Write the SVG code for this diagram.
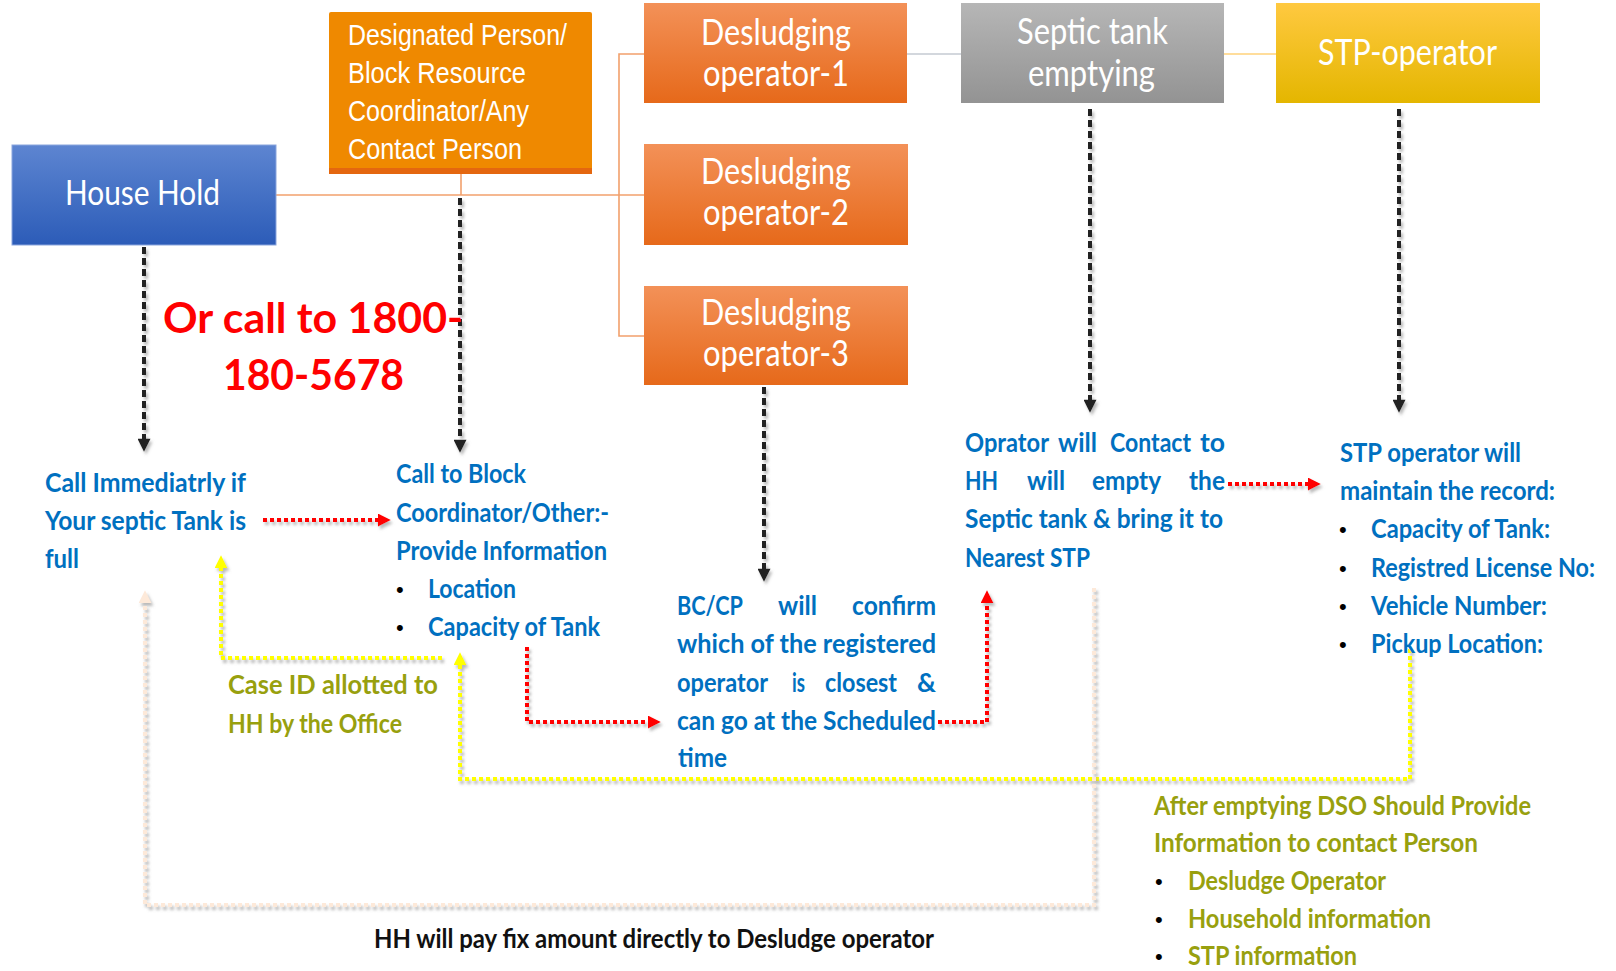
<svg xmlns="http://www.w3.org/2000/svg" width="1616" height="971" viewBox="0 0 1616 971">
<defs>
<style>
.bt{font-family:Lato,"Open Sans","DejaVu Sans",sans-serif;fill:#ffffff}
.dp{font-family:"Liberation Sans",Arial,sans-serif;fill:#ffffff;font-size:29px}
.bl{font-family:Lato,"Open Sans","DejaVu Sans",sans-serif;fill:#0070c0;font-size:27px;font-weight:bold}
.ol{font-family:Lato,"Open Sans","DejaVu Sans",sans-serif;fill:#98a00e;font-size:27px;font-weight:bold}
.bk{font-family:Lato,"Open Sans","DejaVu Sans",sans-serif;fill:#111111;font-size:27px;font-weight:bold}
.bu{font-family:"Liberation Sans",Arial,sans-serif;fill:#000000;font-size:22px}
.rd{font-family:Lato,"Open Sans","DejaVu Sans",sans-serif;fill:#ff0000;font-size:42px;font-weight:bold}
.cn{fill:none;stroke-width:1.6}
.blk{fill:none;stroke:#222222;stroke-width:4;stroke-dasharray:7 4;filter:url(#sh)}
.red{fill:none;stroke:#ff0000;stroke-width:4;stroke-dasharray:4 3;filter:url(#sh)}
.yel{fill:none;stroke:#ffff00;stroke-width:4;stroke-dasharray:4 3;filter:url(#sh)}
.pch{fill:none;stroke:#fde9d9;stroke-width:4;stroke-dasharray:4 3;filter:url(#sh)}
</style>
<filter id="sh" filterUnits="userSpaceOnUse" x="0" y="0" width="1616" height="971">
<feDropShadow dx="2" dy="3" stdDeviation="1.5" flood-color="#808080" flood-opacity="0.55"/>
</filter>
<linearGradient id="gHH" x1="0" y1="0" x2="0" y2="1"><stop offset="0" stop-color="#5d85d1"/><stop offset="1" stop-color="#2c5cb8"/></linearGradient>
<linearGradient id="gDO" x1="0" y1="0" x2="0" y2="1"><stop offset="0" stop-color="#f39158"/><stop offset="1" stop-color="#e6691a"/></linearGradient>
<linearGradient id="gST" x1="0" y1="0" x2="0" y2="1"><stop offset="0" stop-color="#b6b6b6"/><stop offset="1" stop-color="#939393"/></linearGradient>
<linearGradient id="gSP" x1="0" y1="0" x2="0" y2="1"><stop offset="0" stop-color="#ffc940"/><stop offset="1" stop-color="#e4b600"/></linearGradient>
<marker id="aBk" viewBox="0 0 10 10" refX="4" refY="5" markerWidth="14" markerHeight="13" markerUnits="userSpaceOnUse" orient="auto"><path d="M0,0 L10,5 L0,10 z" fill="#222222"/></marker>
<marker id="aRd" viewBox="0 0 10 10" refX="4" refY="5" markerWidth="13" markerHeight="13" markerUnits="userSpaceOnUse" orient="auto"><path d="M0,0 L10,5 L0,10 z" fill="#ff0000"/></marker>
<marker id="aYl" viewBox="0 0 10 10" refX="4" refY="5" markerWidth="13" markerHeight="13" markerUnits="userSpaceOnUse" orient="auto"><path d="M0,0 L10,5 L0,10 z" fill="#ffff00"/></marker>
<marker id="aPc" viewBox="0 0 10 10" refX="4" refY="5" markerWidth="13" markerHeight="13" markerUnits="userSpaceOnUse" orient="auto"><path d="M0,0 L10,5 L0,10 z" fill="#fde9d9"/></marker>
</defs>
<rect x="0" y="0" width="1616" height="971" fill="#ffffff"/>

<g id="connectors">
<path class="cn" stroke="#f2a06c" d="M276,195 H644"/>
<path class="cn" stroke="#f2a06c" d="M461,174 V195"/>
<path class="cn" stroke="#f2a06c" d="M644,54 H619 V336 H644"/>
<path class="cn" stroke="#c4cad2" d="M907,54 H961"/>
<path class="cn" stroke="#ffd27a" d="M1224,54 H1276"/>
<path class="blk" d="M144,247 V444" marker-end="url(#aBk)"/>
<path class="blk" d="M460,198 V445" marker-end="url(#aBk)"/>
<path class="blk" d="M764,387 V574" marker-end="url(#aBk)"/>
<path class="blk" d="M1090,109 V405" marker-end="url(#aBk)"/>
<path class="blk" d="M1399,109 V405" marker-end="url(#aBk)"/>
<path class="red" d="M263,520 H383" marker-end="url(#aRd)"/>
<path class="red" d="M527,647 V722 H653" marker-end="url(#aRd)"/>
<path class="red" d="M938,722 H987 V598" marker-end="url(#aRd)"/>
<path class="red" d="M1228,484 H1313" marker-end="url(#aRd)"/>
<path class="yel" d="M442,658 H221 V563" marker-end="url(#aYl)"/>
<path class="yel" d="M1410,649 V779 H460 V660" marker-end="url(#aYl)"/>
<path class="pch" d="M1094,588 V905 H145 V598" marker-end="url(#aPc)"/>
</g>

<g id="household">
<rect x="12" y="145" width="264" height="100" fill="url(#gHH)" stroke="#8aa5dd" stroke-width="1"/>
<text class="bt" x="65" y="205" font-size="34" textLength="155" lengthAdjust="spacingAndGlyphs">House Hold</text>
</g>

<g id="designated-person">
<rect x="329" y="12" width="263" height="162" rx="2" fill="#ef8900"/>
<rect x="329" y="168" width="263" height="6" fill="#e4670f"/>
<text class="dp" x="348" y="45" textLength="219" lengthAdjust="spacingAndGlyphs">Designated Person/</text>
<text class="dp" x="348" y="83" textLength="178" lengthAdjust="spacingAndGlyphs">Block Resource</text>
<text class="dp" x="348" y="121" textLength="181" lengthAdjust="spacingAndGlyphs">Coordinator/Any</text>
<text class="dp" x="348" y="159" textLength="174" lengthAdjust="spacingAndGlyphs">Contact Person</text>
</g>

<g id="desludging-1">
<rect x="644" y="3" width="263" height="100" fill="url(#gDO)"/>
<text class="bt" x="701" y="45" font-size="36" textLength="150" lengthAdjust="spacingAndGlyphs">Desludging</text>
<text class="bt" x="703" y="86" font-size="36" textLength="146" lengthAdjust="spacingAndGlyphs">operator-1</text>
</g>

<g id="desludging-2">
<rect x="644" y="144" width="264" height="101" fill="url(#gDO)"/>
<text class="bt" x="701" y="184" font-size="36" textLength="150" lengthAdjust="spacingAndGlyphs">Desludging</text>
<text class="bt" x="703" y="225" font-size="36" textLength="146" lengthAdjust="spacingAndGlyphs">operator-2</text>
</g>

<g id="desludging-3">
<rect x="644" y="286" width="264" height="99" fill="url(#gDO)"/>
<text class="bt" x="701" y="325" font-size="36" textLength="150" lengthAdjust="spacingAndGlyphs">Desludging</text>
<text class="bt" x="703" y="366" font-size="36" textLength="146" lengthAdjust="spacingAndGlyphs">operator-3</text>
</g>

<g id="septic-tank">
<rect x="961" y="3" width="263" height="100" fill="url(#gST)"/>
<text class="bt" x="1017" y="44" font-size="36" textLength="151" lengthAdjust="spacingAndGlyphs">Septic tank</text>
<text class="bt" x="1028" y="86" font-size="36" textLength="127" lengthAdjust="spacingAndGlyphs">emptying</text>
</g>

<g id="stp-operator">
<rect x="1276" y="3" width="264" height="100" fill="url(#gSP)"/>
<text class="bt" x="1318" y="65" font-size="36" textLength="179" lengthAdjust="spacingAndGlyphs">STP-operator</text>
</g>

<g id="call-number">
<text class="rd" x="163" y="333" textLength="300" lengthAdjust="spacingAndGlyphs">Or call to 1800-</text>
<text class="rd" x="223" y="390" textLength="181" lengthAdjust="spacingAndGlyphs">180-5678</text>
</g>

<g id="call-immediately">
<text class="bl" x="45" y="492" textLength="201" lengthAdjust="spacingAndGlyphs">Call Immediatrly if</text>
<text class="bl" x="45" y="530" textLength="201" lengthAdjust="spacingAndGlyphs">Your septic Tank is</text>
<text class="bl" x="45" y="568" textLength="34" lengthAdjust="spacingAndGlyphs">full</text>
</g>

<g id="call-block">
<text class="bl" x="396" y="483" textLength="130" lengthAdjust="spacingAndGlyphs">Call to Block</text>
<text class="bl" x="396" y="522" textLength="213" lengthAdjust="spacingAndGlyphs">Coordinator/Other:-</text>
<text class="bl" x="396" y="560" textLength="211" lengthAdjust="spacingAndGlyphs">Provide Information</text>
<text class="bu" x="396" y="597">•</text>
<text class="bl" x="428" y="598" textLength="88" lengthAdjust="spacingAndGlyphs">Location</text>
<text class="bu" x="396" y="635">•</text>
<text class="bl" x="428" y="636" textLength="172" lengthAdjust="spacingAndGlyphs">Capacity of Tank</text>
</g>

<g id="case-id">
<text class="ol" x="228" y="694" textLength="210" lengthAdjust="spacingAndGlyphs">Case ID allotted to</text>
<text class="ol" x="228" y="733" textLength="174" lengthAdjust="spacingAndGlyphs">HH by the Office</text>
</g>

<g id="bc-cp">
<text class="bl" x="677" y="615" textLength="66" lengthAdjust="spacingAndGlyphs">BC/CP</text>
<text class="bl" x="778" y="615" textLength="39" lengthAdjust="spacingAndGlyphs">will</text>
<text class="bl" x="852" y="615" textLength="84" lengthAdjust="spacingAndGlyphs">confirm</text>
<text class="bl" x="677" y="653" textLength="259" lengthAdjust="spacingAndGlyphs">which of the registered</text>
<text class="bl" x="677" y="692" textLength="91" lengthAdjust="spacingAndGlyphs">operator</text>
<text class="bl" x="792" y="692" textLength="13" lengthAdjust="spacingAndGlyphs">is</text>
<text class="bl" x="825" y="692" textLength="72" lengthAdjust="spacingAndGlyphs">closest</text>
<text class="bl" x="917" y="692" textLength="19" lengthAdjust="spacingAndGlyphs">&amp;</text>
<text class="bl" x="677" y="730" textLength="259" lengthAdjust="spacingAndGlyphs">can go at the Scheduled</text>
<text class="bl" x="678" y="767" textLength="49" lengthAdjust="spacingAndGlyphs">time</text>
</g>

<g id="operator-contact">
<text class="bl" x="965" y="452" textLength="84" lengthAdjust="spacingAndGlyphs">Oprator</text>
<text class="bl" x="1058" y="452" textLength="39" lengthAdjust="spacingAndGlyphs">will</text>
<text class="bl" x="1110" y="452" textLength="81" lengthAdjust="spacingAndGlyphs">Contact</text>
<text class="bl" x="1200" y="452" textLength="25" lengthAdjust="spacingAndGlyphs">to</text>
<text class="bl" x="965" y="490" textLength="33" lengthAdjust="spacingAndGlyphs">HH</text>
<text class="bl" x="1027" y="490" textLength="38" lengthAdjust="spacingAndGlyphs">will</text>
<text class="bl" x="1092" y="490" textLength="69" lengthAdjust="spacingAndGlyphs">empty</text>
<text class="bl" x="1189" y="490" textLength="36" lengthAdjust="spacingAndGlyphs">the</text>
<text class="bl" x="965" y="528" textLength="258" lengthAdjust="spacingAndGlyphs">Septic tank &amp; bring it to</text>
<text class="bl" x="965" y="567" textLength="125" lengthAdjust="spacingAndGlyphs">Nearest STP</text>
</g>

<g id="stp-record">
<text class="bl" x="1340" y="462" textLength="181" lengthAdjust="spacingAndGlyphs">STP operator will</text>
<text class="bl" x="1340" y="500" textLength="215" lengthAdjust="spacingAndGlyphs">maintain the record:</text>
<text class="bu" x="1339" y="537">•</text>
<text class="bl" x="1371" y="538" textLength="179" lengthAdjust="spacingAndGlyphs">Capacity of Tank:</text>
<text class="bu" x="1339" y="576">•</text>
<text class="bl" x="1371" y="577" textLength="224" lengthAdjust="spacingAndGlyphs">Registred License No:</text>
<text class="bu" x="1339" y="614">•</text>
<text class="bl" x="1371" y="615" textLength="176" lengthAdjust="spacingAndGlyphs">Vehicle Number:</text>
<text class="bu" x="1339" y="652">•</text>
<text class="bl" x="1371" y="653" textLength="172" lengthAdjust="spacingAndGlyphs">Pickup Location:</text>
</g>

<g id="after-emptying">
<text class="ol" x="1154" y="815" textLength="377" lengthAdjust="spacingAndGlyphs">After emptying DSO Should Provide</text>
<text class="ol" x="1154" y="852" textLength="324" lengthAdjust="spacingAndGlyphs">Information  to contact Person</text>
<text class="bu" x="1155" y="889">•</text>
<text class="ol" x="1188" y="890" textLength="198" lengthAdjust="spacingAndGlyphs">Desludge Operator</text>
<text class="bu" x="1155" y="927">•</text>
<text class="ol" x="1188" y="928" textLength="243" lengthAdjust="spacingAndGlyphs">Household information</text>
<text class="bu" x="1155" y="964">•</text>
<text class="ol" x="1188" y="965" textLength="169" lengthAdjust="spacingAndGlyphs">STP information</text>
</g>

<g id="payment-note">
<text class="bk" x="374" y="948" textLength="560" lengthAdjust="spacingAndGlyphs">HH will pay fix amount  directly to Desludge operator</text>
</g>
</svg>
